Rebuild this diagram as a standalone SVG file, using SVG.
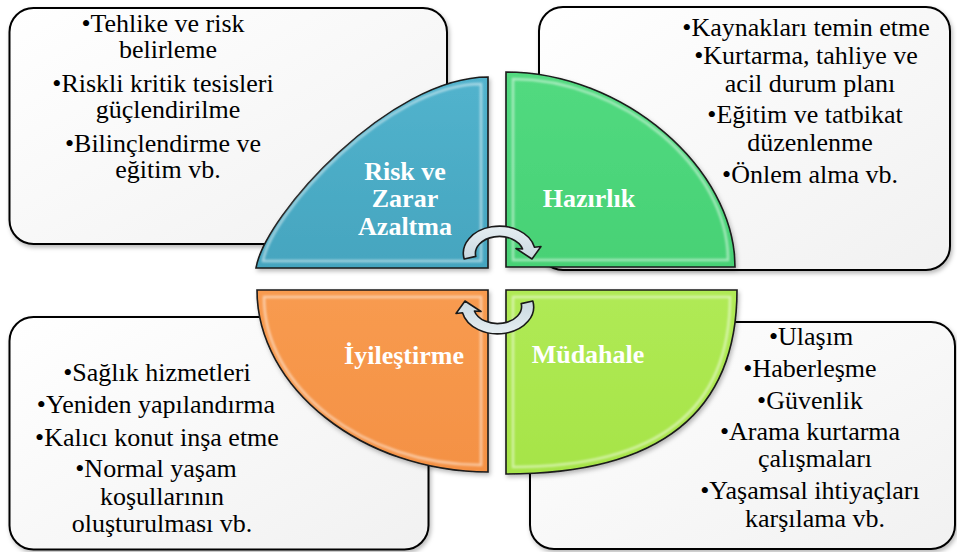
<svg xmlns="http://www.w3.org/2000/svg" width="957" height="552" viewBox="0 0 957 552">
<defs>
<style>
.box{fill:url(#boxg);stroke:#000;stroke-width:2;filter:url(#shadow)}
.q{stroke:#1a1a1a;stroke-width:1.6;filter:url(#shadow)}
.bevel{fill:none;stroke:#fff;stroke-opacity:0.5;stroke-width:2.5;filter:url(#soft)}
.t{font-family:"Liberation Serif","Times New Roman",serif;font-size:26px;fill:#000;text-anchor:middle}
.ql{font-family:"Liberation Serif","Times New Roman",serif;font-size:26px;font-weight:bold;fill:#fff;text-anchor:middle}
.arrow{fill:url(#arrg);stroke:#1a1a1a;stroke-width:1.6;stroke-linejoin:round}
</style>
<linearGradient id="boxg" x1="0" y1="0" x2="1" y2="1">
<stop offset="0" stop-color="#ffffff"/>
<stop offset="1" stop-color="#f1f1f1"/>
</linearGradient>
<linearGradient id="blueg" x1="0" y1="0" x2="0" y2="1">
<stop offset="0" stop-color="#52b3cd"/>
<stop offset="1" stop-color="#45a5bf"/>
</linearGradient>
<linearGradient id="greeng" x1="0" y1="0" x2="0" y2="1">
<stop offset="0" stop-color="#52da80"/>
<stop offset="1" stop-color="#47d175"/>
</linearGradient>
<linearGradient id="orangeg" x1="0" y1="0" x2="0" y2="1">
<stop offset="0" stop-color="#f89b50"/>
<stop offset="1" stop-color="#f49144"/>
</linearGradient>
<linearGradient id="limeg" x1="0" y1="0" x2="0" y2="1">
<stop offset="0" stop-color="#b0ea55"/>
<stop offset="1" stop-color="#a6e448"/>
</linearGradient>
<linearGradient id="arrg" x1="0" y1="0" x2="0" y2="1">
<stop offset="0" stop-color="#e6eef2"/>
<stop offset="1" stop-color="#c9d8e0"/>
</linearGradient>
<filter id="shadow" x="-10%" y="-10%" width="125%" height="125%">
<feDropShadow dx="1.5" dy="2.5" stdDeviation="2" flood-color="#000" flood-opacity="0.28"/>
</filter>
<filter id="soft" x="-5%" y="-5%" width="110%" height="110%">
<feGaussianBlur stdDeviation="0.8"/>
</filter>
</defs>
<rect width="957" height="552" fill="#ffffff"/>

<g id="box-risk">
<rect class="box" x="9.5" y="8" width="437.5" height="236" rx="24"/>
<text class="t" x="163" y="32">•Tehlike ve risk</text>
<text class="t" x="168" y="58">belirleme</text>
<text class="t" x="163" y="92">•Riskli kritik tesisleri</text>
<text class="t" x="168" y="118">güçlendirilme</text>
<text class="t" x="163" y="152">•Bilinçlendirme ve</text>
<text class="t" x="168" y="178">eğitim vb.</text>
</g>

<g id="box-hazirlik">
<rect class="box" x="539" y="7" width="411" height="263" rx="24"/>
<text class="t" x="806" y="36">•Kaynakları temin etme</text>
<text class="t" x="806" y="64">•Kurtarma, tahliye ve</text>
<text class="t" x="810" y="92">acil durum planı</text>
<text class="t" x="805" y="123">•Eğitim ve tatbikat</text>
<text class="t" x="810" y="151">düzenlenme</text>
<text class="t" x="810" y="183">•Önlem alma vb.</text>
</g>

<g id="box-iyilestirme">
<rect class="box" x="9.5" y="317" width="419" height="232.5" rx="24"/>
<text class="t" x="157" y="381">•Sağlık hizmetleri</text>
<text class="t" x="156" y="413">•Yeniden yapılandırma</text>
<text class="t" x="157" y="446">•Kalıcı konut inşa etme</text>
<text class="t" x="156" y="477">•Normal yaşam</text>
<text class="t" x="162" y="505">koşullarının</text>
<text class="t" x="162" y="532">oluşturulması vb.</text>
</g>

<g id="box-mudahale">
<rect class="box" x="530" y="322" width="425" height="227" rx="24"/>
<text class="t" x="811" y="345">•Ulaşım</text>
<text class="t" x="810" y="377">•Haberleşme</text>
<text class="t" x="810" y="409">•Güvenlik</text>
<text class="t" x="810" y="440">•Arama kurtarma</text>
<text class="t" x="815" y="467">çalışmaları</text>
<text class="t" x="810" y="499">•Yaşamsal ihtiyaçları</text>
<text class="t" x="815" y="527">karşılama vb.</text>
</g>

<g id="q-risk">
<path class="q" fill="url(#blueg)" d="M488,268 L256,268 C265,215 390,77 488,77 Z"/>
<path class="bevel" d="M481,261 L263,261 C271,212 389,84 481,84 Z"/>
<text class="ql" x="405" y="180">Risk ve</text>
<text class="ql" x="405" y="207">Zarar</text>
<text class="ql" x="405" y="235">Azaltma</text>
</g>

<g id="q-hazirlik">
<path class="q" fill="url(#greeng)" d="M506,267 L506,72 C623,72 735,168 735,267 Z"/>
<path class="bevel" d="M513,260 L513,79 C623,79 728,168 728,260 Z"/>
<text class="ql" x="589" y="207">Hazırlık</text>
</g>

<g id="q-iyilestirme">
<path class="q" fill="url(#orangeg)" d="M488,290 L257,290 C257,388 363,472 488,472 Z"/>
<path class="bevel" d="M481,297 L264,297 C264,388 364,465 481,465 Z"/>
<text class="ql" x="404" y="364">İyileştirme</text>
</g>

<g id="q-mudahale">
<path class="q" fill="url(#limeg)" d="M506,290 L737,290 C737,413 660,474 506,474 Z"/>
<path class="bevel" d="M513,297 L730,297 C730,410 658,467 513,467 Z"/>
<text class="ql" x="588" y="363">Müdahale</text>
</g>

<g id="connectors">
<path id="arrow-top" class="arrow" d="M464.2,259 A36,27 0 0 1 534.5,247.3 L541,246.5 L532,259 L516,248.5 L522.6,249 A24,17 0 0 0 475.8,256.4 Z"/>
<path id="arrow-bottom" class="arrow" transform="rotate(180 498.5 280)" d="M464.2,259 A36,27 0 0 1 534.5,247.3 L541,246.5 L532,259 L516,248.5 L522.6,249 A24,17 0 0 0 475.8,256.4 Z"/>
</g>
</svg>
